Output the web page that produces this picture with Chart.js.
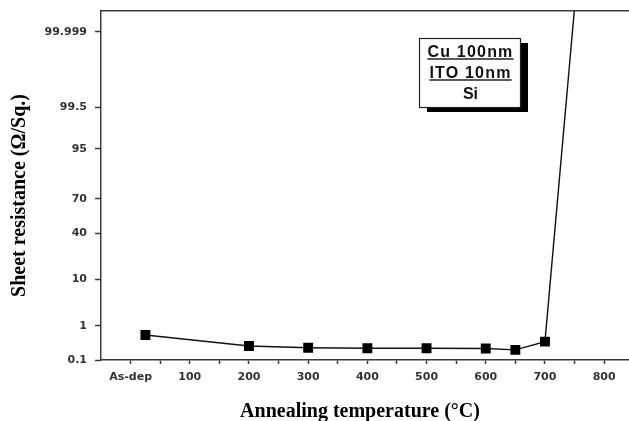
<!DOCTYPE html>
<html>
<head>
<meta charset="utf-8">
<script src="https://cdn.jsdelivr.net/npm/chart.js@4"></script>
<style>
html,body{margin:0;padding:0;background:#fff;overflow:hidden;}
#wrap{width:629px;height:421px;}
</style>
</head>
<body>
<div id="wrap"><canvas id="c" width="629" height="421"></canvas></div>
<script>
// ---- data ----
const temperatures = [25, 200, 300, 400, 500, 600, 650, 700, 750];          // °C (25 = as-deposited)
const sheetResistance = [0.57, 0.275, 0.244, 0.234, 0.234, 0.232, 0.21, 0.37, 99.99992]; // probability-scale values
const yTickLabels = ['0.1', '1', '10', '40', '70', '95', '99.5', '99.999'];
const xTickValues = [0, 50, 100, 150, 200, 250, 300, 350, 400, 450, 500, 550, 600, 650, 700, 750, 800];
const xTickLabels = ['As-dep', '', '100', '', '200', '', '300', '', '400', '', '500', '', '600', '', '700', '', '800'];
const legendLines = ['Cu 100nm', 'ITO 10nm', 'Si'];
const xRange = [-50, 842];
const yTopPercent = 99.99989;

// inverse normal CDF (Acklam) for the probability axis
function probit(p) {
  const a = [-3.969683028665376e+01, 2.209460984245205e+02, -2.759285104469687e+02, 1.383577518672690e+02, -3.066479806614716e+01, 2.506628277459239e+00];
  const b = [-5.447609879822406e+01, 1.615858368580409e+02, -1.556989798598866e+02, 6.680131188771972e+01, -1.328068155288572e+01];
  const c = [-7.784894002430293e-03, -3.223964580411365e-01, -2.400758277161838e+00, -2.549732539343734e+00, 4.374664141464968e+00, 2.938163982698783e+00];
  const d = [7.784695709041462e-03, 3.224671290700398e-01, 2.445134137142996e+00, 3.754408661907416e+00];
  const pl = 0.02425, ph = 1 - pl;
  let q, r;
  if (p < pl) {
    q = Math.sqrt(-2 * Math.log(p));
    return (((((c[0]*q+c[1])*q+c[2])*q+c[3])*q+c[4])*q+c[5]) / ((((d[0]*q+d[1])*q+d[2])*q+d[3])*q+1);
  } else if (p <= ph) {
    q = p - 0.5; r = q * q;
    return (((((a[0]*r+a[1])*r+a[2])*r+a[3])*r+a[4])*r+a[5])*q / (((((b[0]*r+b[1])*r+b[2])*r+b[3])*r+b[4])*r+1);
  } else {
    q = Math.sqrt(-2 * Math.log(1 - p));
    return -(((((c[0]*q+c[1])*q+c[2])*q+c[3])*q+c[4])*q+c[5]) / ((((d[0]*q+d[1])*q+d[2])*q+d[3])*q+1);
  }
}
const toZ = v => probit(v / 100);

const points = temperatures.map((t, i) => ({x: t, y: toZ(sheetResistance[i])}));
const pointRadii = temperatures.map((t, i) => i === temperatures.length - 1 ? 0 : 6);

const axisColor = '#3a3a3a';
const tickFont = {family: 'DejaVu Sans', size: 11, weight: 'bold'};
const titleFont = {family: 'Liberation Serif', size: 20, weight: 'bold'};

const legendPlugin = {
  id: 'legendBox',
  afterDraw(chart) {
    const ctx = chart.ctx;
    const x = 419, y = 38, w = 101, h = 69;
    ctx.save();
    ctx.fillStyle = '#000';
    ctx.fillRect(x + 8, y + 5, w, h);
    ctx.fillStyle = '#fff';
    ctx.fillRect(x, y, w, h);
    ctx.strokeStyle = '#222';
    ctx.lineWidth = 1.2;
    ctx.strokeRect(x + 0.5, y + 0.5, w, h);
    ctx.fillStyle = '#111';
    ctx.font = 'bold 16px "Liberation Sans"';
    ctx.textAlign = 'center';
    ctx.textBaseline = 'alphabetic';
    const cx = x + w / 2 + 1;
    const baselines = [57, 78, 99];
    legendLines.forEach((s, i) => {
      ctx.letterSpacing = i < 2 ? '1.2px' : '0px';
      ctx.fillText(s, cx, baselines[i]);
      if (i < 2) {
        const tw = ctx.measureText(s).width;
        ctx.beginPath();
        ctx.lineWidth = 1.3;
        ctx.moveTo(cx - tw / 2, baselines[i] + 2);
        ctx.lineTo(cx + tw / 2, baselines[i] + 2);
        ctx.stroke();
      }
    });
    ctx.letterSpacing = '0px';
    ctx.restore();
  }
};

function zeroPad(s) { s.paddingLeft = 0; s.paddingRight = 0; s.paddingTop = 0; s.paddingBottom = 0; }

new Chart(document.getElementById('c'), {
  type: 'line',
  data: {
    datasets: [{
      data: points,
      borderColor: '#111',
      borderWidth: 1.4,
      pointStyle: 'rect',
      pointRadius: pointRadii,
      pointHoverRadius: pointRadii,
      pointBackgroundColor: '#000',
      pointBorderColor: '#000',
      tension: 0,
      clip: 0
    }]
  },
  options: {
    responsive: false,
    animation: false,
    devicePixelRatio: 1,
    layout: {padding: 0, autoPadding: false},
    plugins: {legend: {display: false}, tooltip: {enabled: false}},
    scales: {
      x: {
        type: 'linear',
        position: 'bottom',
        min: xRange[0],
        max: xRange[1],
        afterBuildTicks: s => { s.ticks = xTickValues.map(v => ({value: v})); },
        afterFit: s => { s.height = 61; zeroPad(s); },
        ticks: {
          autoSkip: false, maxRotation: 0, padding: 7,
          color: '#333', font: tickFont,
          callback: (v, i) => xTickLabels[i]
        },
        grid: {drawOnChartArea: false, tickLength: 4, tickColor: axisColor, tickWidth: 1.5},
        border: {color: axisColor, width: 1.5},
        title: {display: true, text: 'Annealing temperature (°C)  ', color: '#000', font: titleFont, padding: {top: 0, bottom: -3}}
      },
      xTop: {
        type: 'linear',
        position: 'top',
        min: xRange[0],
        max: xRange[1],
        afterFit: s => { s.height = 11; zeroPad(s); },
        ticks: {display: false},
        grid: {drawOnChartArea: false, drawTicks: false},
        border: {color: axisColor, width: 1.5}
      },
      y: {
        type: 'linear',
        min: toZ(parseFloat(yTickLabels[0])),
        max: toZ(yTopPercent),
        afterBuildTicks: s => { s.ticks = yTickLabels.map(l => ({value: toZ(parseFloat(l))})); },
        afterFit: s => { s.width = 101; zeroPad(s); },
        ticks: {
          autoSkip: false, padding: 8,
          color: '#333', font: tickFont,
          callback: (v, i) => yTickLabels[i]
        },
        grid: {drawOnChartArea: false, tickLength: 6, tickColor: axisColor, tickWidth: 1.5},
        border: {color: axisColor, width: 1.5},
        title: {display: true, text: 'Sheet resistance (Ω/Sq.)    ', color: '#000', font: titleFont, padding: {top: 8, bottom: 0}}
      }
    }
  },
  plugins: [legendPlugin]
});
</script>
</body>
</html>
